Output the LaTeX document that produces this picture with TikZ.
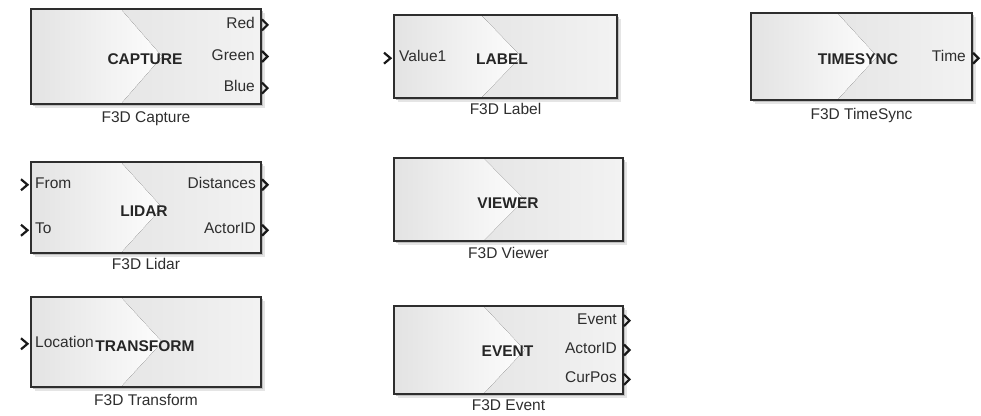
\documentclass[tikz,border=0pt]{standalone}
\usepackage{fontspec}
\setmainfont{Liberation Sans}
\usetikzlibrary{calc,backgrounds}
\tikzset{
  sblock/.style={draw=black!82, line width=1.4pt, inner sep=0pt, outer sep=0pt,
    path picture={
      \fill[left color=black!13, right color=black!5] (path picture bounding box.south west) rectangle (path picture bounding box.north east);
      \fill[left color=black!11, right color=black!1]
        (path picture bounding box.north west)
        -- ($(path picture bounding box.north west)!0.39!(path picture bounding box.north east)$)
        -- ($(path picture bounding box.west)!0.57!(path picture bounding box.east)$)
        -- ($(path picture bounding box.south west)!0.39!(path picture bounding box.south east)$)
        -- (path picture bounding box.south west) -- cycle;
    }},
  btitle/.style={font=\fontsize{15.5}{17}\selectfont\bfseries, text=black!85, inner sep=0pt, text height=0.716em, text depth=0pt},
  plabel/.style={font=\fontsize{15.5}{17}\selectfont, text=black!82, inner sep=0pt, text height=0.716em, text depth=0pt},
  caption/.style={font=\fontsize{15.5}{17}\selectfont, text=black!82, inner sep=0pt, text height=0.716em, text depth=0pt},
  portline/.style={draw=black!90, line width=2.2pt},
  outport/.pic={\draw[portline] (1pt,5.5pt) -- (6.5pt,0pt) -- (1pt,-5.5pt);},
  inport/.pic={\draw[portline] (-10pt,5.5pt) -- (-3.5pt,0pt) -- (-10pt,-5.5pt);},
  shadowA/.style={fill=black!10},
  shadowB/.style={fill=black!25},
}
\begin{document}
\begin{tikzpicture}[x=1pt,y=-1pt]
\useasboundingbox (0,0) rectangle (981,415);

% ---------- blocks ----------
\node[sblock, minimum width=230pt, minimum height=95pt] (cap) at (146,56.5) {};
\node[sblock, minimum width=223pt, minimum height=83pt] (lab) at (505.5,56.5) {};
\node[sblock, minimum width=221pt, minimum height=87pt] (tsy) at (861.5,56.5) {};
\node[sblock, minimum width=230pt, minimum height=91pt] (lid) at (146,207.5) {};
\node[sblock, minimum width=229pt, minimum height=83pt] (vie) at (508.5,199.5) {};
\node[sblock, minimum width=230pt, minimum height=90pt] (trf) at (146,342) {};
\node[sblock, minimum width=229pt, minimum height=88pt] (evt) at (508.5,350) {};

% ---------- shadows ----------
\begin{scope}[on background layer]
\foreach \b in {cap,lab,tsy,lid,vie,trf,evt}{
  \fill[shadowA] ([shift={(3.5pt,-3.5pt)}]\b.south west) rectangle ([shift={(3.5pt,-3.5pt)}]\b.north east);
  \fill[shadowB] ([shift={(1.8pt,-1.8pt)}]\b.south west) rectangle ([shift={(1.8pt,-1.8pt)}]\b.north east);
}
\end{scope}

% ---------- titles ----------
\node[btitle] (cap-t) at (145,60.5) {CAPTURE};
\node[btitle] (lab-t) at (502,61) {LABEL};
\node[btitle] (tsy-t) at (858,61) {TIMESYNC};
\node[btitle] (lid-t) at (144,213) {LIDAR};
\node[btitle] (vie-t) at (508,205) {VIEWER};
\node[btitle] (trf-t) at (145,348) {TRANSFORM};
\node[btitle] (evt-t) at (507.5,353) {EVENT};

% ---------- captions ----------
\node[caption] (cap-c) at (146,118.5) {F3D Capture};
\node[caption] (lab-c) at (505.5,111) {F3D Label};
\node[caption] (tsy-c) at (861.5,116) {F3D TimeSync};
\node[caption] (lid-c) at (146,266) {F3D Lidar};
\node[caption] (vie-c) at (508.5,254.5) {F3D Viewer};
\node[caption] (trf-c) at (146,402) {F3D Transform};
\node[caption] (evt-c) at (508.5,407) {F3D Event};

% ---------- port coordinates ----------
\coordinate (cap-o1) at ($(cap.north east)!1/6!(cap.south east)$);
\coordinate (cap-o2) at ($(cap.north east)!3/6!(cap.south east)$);
\coordinate (cap-o3) at ($(cap.north east)!5/6!(cap.south east)$);
\coordinate (lab-i1) at ($(lab.north west)!0.52!(lab.south west)$);
\coordinate (tsy-o1) at ($(tsy.north east)!0.52!(tsy.south east)$);
\coordinate (lid-i1) at ($(lid.north west)!1/4!(lid.south west)$);
\coordinate (lid-i2) at ($(lid.north west)!3/4!(lid.south west)$);
\coordinate (lid-o1) at ($(lid.north east)!1/4!(lid.south east)$);
\coordinate (lid-o2) at ($(lid.north east)!3/4!(lid.south east)$);
\coordinate (trf-i1) at ($(trf.north west)!0.52!(trf.south west)$);
\coordinate (evt-o1) at ($(evt.north east)!1/6!(evt.south east)$);
\coordinate (evt-o2) at ($(evt.north east)!3/6!(evt.south east)$);
\coordinate (evt-o3) at ($(evt.north east)!5/6!(evt.south east)$);

% ---------- port chevrons ----------
\foreach \p in {cap-o1,cap-o2,cap-o3,tsy-o1,lid-o1,lid-o2,evt-o1,evt-o2,evt-o3}{
  \pic at (\p) {outport};
}
\foreach \p in {lab-i1,lid-i1,lid-i2,trf-i1}{
  \pic at (\p) {inport};
}

% ---------- port labels ----------
\node[plabel, anchor=east] (cap-l1) at ([xshift=-6pt]cap-o1) {Red};
\node[plabel, anchor=east] (cap-l2) at ([xshift=-6pt]cap-o2) {Green};
\node[plabel, anchor=east] (cap-l3) at ([xshift=-6pt]cap-o3) {Blue};
\node[plabel, anchor=west] (lab-l1) at ([xshift=5pt]lab-i1) {Value1};
\node[plabel, anchor=east] (tsy-l1) at ([xshift=-6pt]tsy-o1) {Time};
\node[plabel, anchor=west] (lid-l1) at ([xshift=4pt]lid-i1) {From};
\node[plabel, anchor=west] (lid-l2) at ([xshift=4pt]lid-i2) {To};
\node[plabel, anchor=east] (lid-l3) at ([xshift=-5pt]lid-o1) {Distances};
\node[plabel, anchor=east] (lid-l4) at ([xshift=-5pt]lid-o2) {ActorID};
\node[plabel, anchor=west] (trf-l1) at ([xshift=4pt]trf-i1) {Location};
\node[plabel, anchor=east] (evt-l1) at ([xshift=-6pt]evt-o1) {Event};
\node[plabel, anchor=east] (evt-l2) at ([xshift=-6pt]evt-o2) {ActorID};
\node[plabel, anchor=east] (evt-l3) at ([xshift=-6pt]evt-o3) {CurPos};
\end{tikzpicture}
\end{document}
